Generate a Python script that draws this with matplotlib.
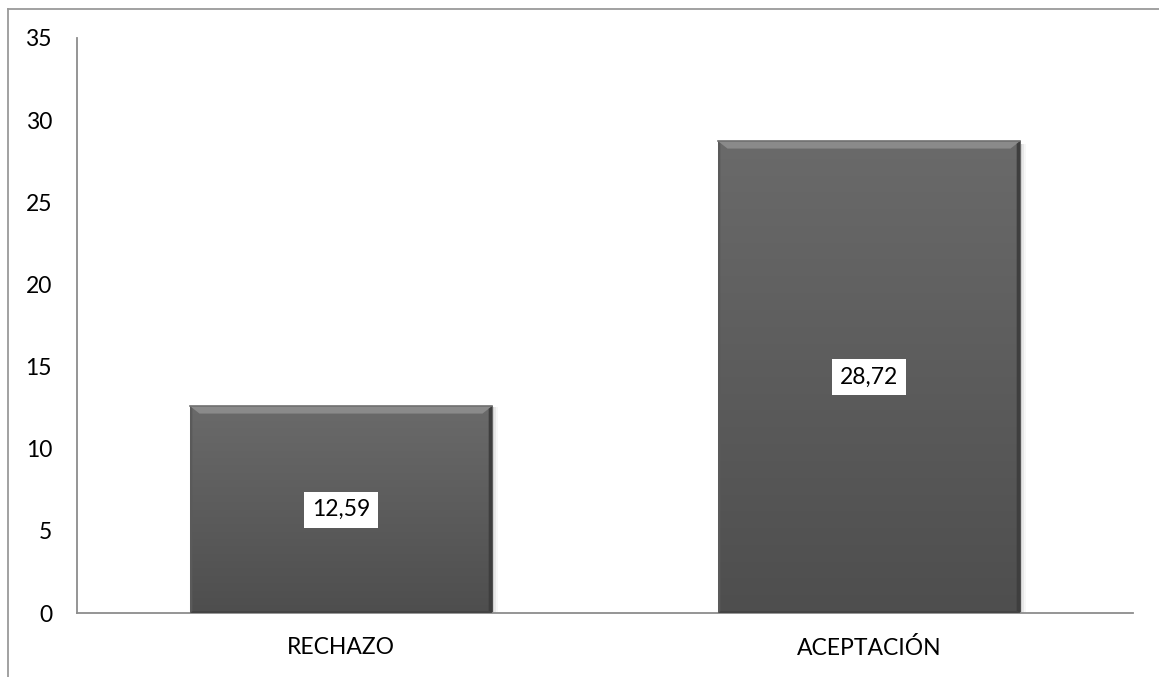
import numpy as np
import matplotlib.pyplot as plt
from matplotlib.patches import Polygon, Rectangle
from matplotlib.colors import LinearSegmentedColormap

categories = ["RECHAZO", "ACEPTACIÓN"]
values = [12.59, 28.72]
value_labels = ["12,59", "28,72"]
y_ticks = [0, 5, 10, 15, 20, 25, 30, 35]

plt.rcParams['font.family'] = ['Lato', 'DejaVu Sans']

fig = plt.figure(figsize=(11.59, 6.77), dpi=100)
ax = fig.add_axes([77 / 1159, 1 - 613 / 677, (1133 - 77) / 1159, (613 - 38) / 677])

bars = ax.bar(range(len(categories)), values, width=0.572, color='#5c5c5c', zorder=2)
ax.set_xlim(-0.5, len(categories) - 0.5)
ax.set_ylim(0, 35)
ax.set_yticks(y_ticks)
ax.set_xticks(range(len(categories)))
ax.set_xticklabels(categories)
ax.tick_params(axis='both', length=0, labelsize=16.5, colors='black')
ax.tick_params(axis='y', pad=18)
ax.tick_params(axis='x', pad=17)
for side in ('top', 'right'):
    ax.spines[side].set_visible(False)
for side in ('left', 'bottom'):
    ax.spines[side].set_color('#8c8c8c')
    ax.spines[side].set_linewidth(1.3)

# vertical gradient fill + bevel on each bar
grad = np.linspace(0, 1, 256).reshape(-1, 1)
cmap = LinearSegmentedColormap.from_list('bar_grad', ['#4e4e4e', '#6a6a6a'])
for bar, lab in zip(bars, value_labels):
    x0, y0 = bar.get_x(), bar.get_y()
    w, h = bar.get_width(), bar.get_height()
    # soft shadow to the right
    for i, a in enumerate([0.10, 0.06, 0.03]):
        ax.add_patch(Rectangle((x0 + w, y0), 0.004 * (i + 1), h * 0.995,
                               color='black', alpha=a, lw=0, zorder=1))
    im = ax.imshow(grad, extent=(x0, x0 + w, y0, y0 + h), origin='lower',
                   cmap=cmap, aspect='auto', zorder=2.5)
    im.set_clip_path(bar)
    # bevel edges in data units
    dx = 0.018
    dy = 0.45
    top = Polygon([(x0, y0 + h), (x0 + w, y0 + h), (x0 + w - dx, y0 + h - dy), (x0 + dx, y0 + h - dy)],
                  closed=True, color='#8a8a8a', lw=0, zorder=3)
    right = Polygon([(x0 + w, y0 + h), (x0 + w, y0), (x0 + w - dx * 0.35, y0 + 0.1), (x0 + w - dx * 0.35, y0 + h - dy * 0.35)],
                    closed=True, color='#3e3e3e', lw=0, zorder=3)
    left = Polygon([(x0, y0 + h), (x0, y0), (x0 + dx * 0.25, y0 + 0.1), (x0 + dx * 0.25, y0 + h - dy * 0.3)],
                   closed=True, color='#5a5a5a', lw=0, zorder=3)
    bottom = Polygon([(x0, y0), (x0 + w, y0), (x0 + w - dx * 0.3, y0 + 0.12), (x0 + dx * 0.3, y0 + 0.12)],
                     closed=True, color='#444444', lw=0, zorder=3)
    for p in (top, right, left, bottom):
        ax.add_patch(p)
    ax.plot([x0, x0 + w], [y0 + h, y0 + h], color='#707070', lw=1.2, zorder=3.5)
    ax.text(x0 + w / 2, y0 + h / 2, lab, ha='center', va='center', fontsize=16.5,
            color='black', zorder=5,
            bbox=dict(boxstyle='square,pad=0.33', fc='white', ec='none'))

# outer chart frame
fig.add_artist(plt.Line2D([8 / 1159, 8 / 1159], [0, 1 - 9 / 677], color='#9a9a9a', lw=1.3,
                          transform=fig.transFigure))
fig.add_artist(plt.Line2D([8 / 1159, 1], [1 - 9 / 677, 1 - 9 / 677], color='#9a9a9a', lw=1.3,
                          transform=fig.transFigure))

fig.savefig('out.png', dpi=100)
